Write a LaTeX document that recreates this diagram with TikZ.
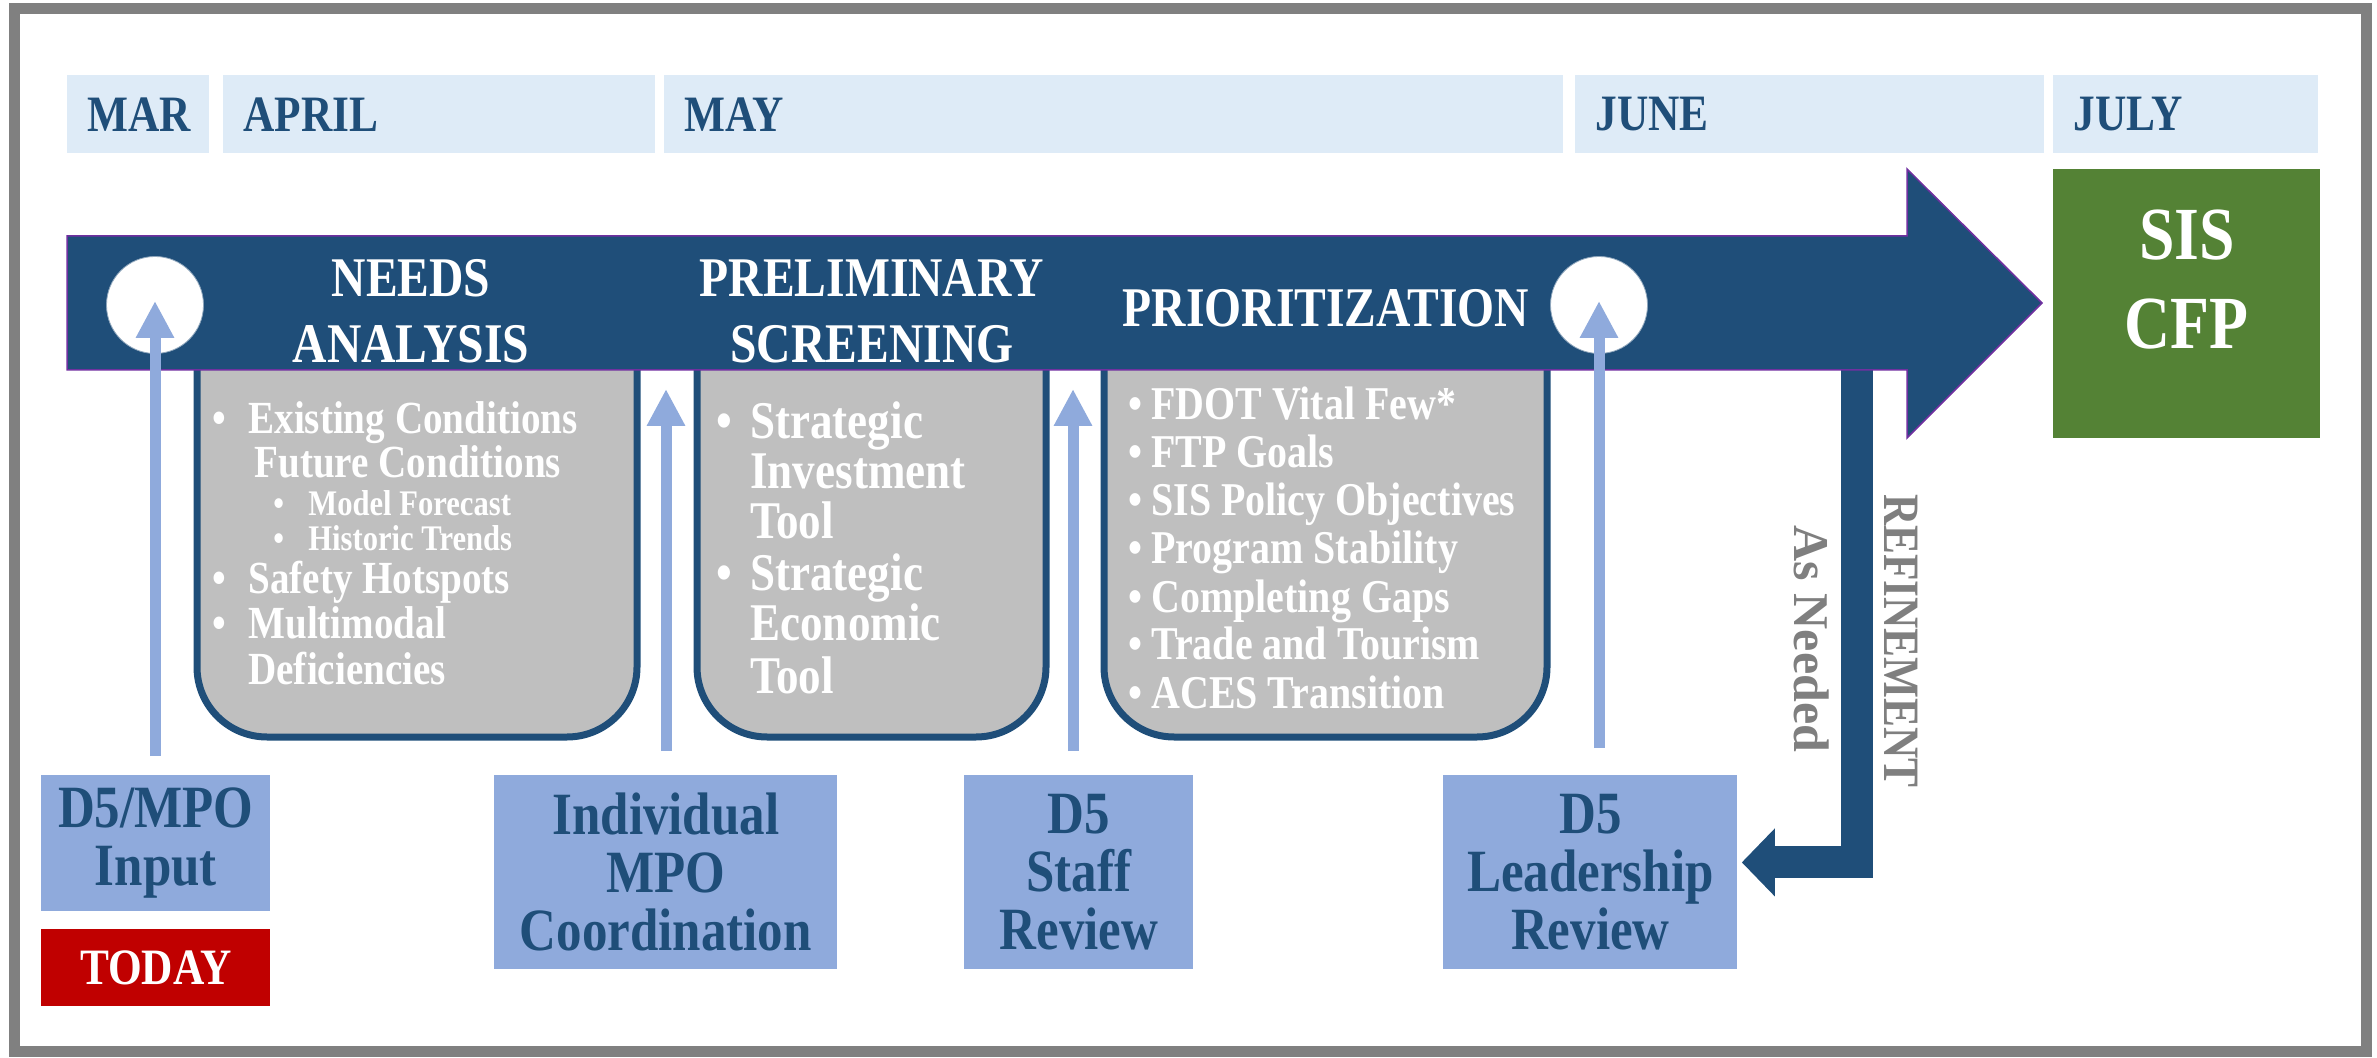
\documentclass[tikz,border=0pt]{standalone}
\usepackage{fontspec}
\setmainfont{Liberation Serif}[FakeStretch=0.85]
\newfontfamily\plainserif{Liberation Serif}
\usetikzlibrary{positioning,arrows.meta,shapes}

\definecolor{darkblue}{HTML}{1F4E79}
\definecolor{monthfill}{HTML}{DEEBF7}
\definecolor{softblue}{HTML}{8FAADC}
\definecolor{boxgray}{HTML}{BFBFBF}
\definecolor{cfpgreen}{HTML}{548235}
\definecolor{todayred}{HTML}{C00000}
\definecolor{notegray}{HTML}{7F7F7F}
\definecolor{edgepurple}{HTML}{7030A0}
\definecolor{framegray}{HTML}{808080}

\newcommand{\listdot}[1]{\makebox[#1][l]{\textbullet}}

\begin{document}
\begin{tikzpicture}
        [x=0.5pt, y=-0.5pt, font=\bfseries,
        monthbox/.style={fill=monthfill, text=darkblue, anchor=north west,
        minimum height=39pt, inner xsep=10pt, inner ysep=0pt, align=left,
        font=\bfseries\fontsize{25.5}{30}\selectfont},
        phasetitle/.style={text=white, align=center,
        font=\bfseries\fontsize{28}{33}\selectfont},
        hole/.style={circle, fill=white, draw=darkblue!50, thin,
        minimum size=48.5pt, inner sep=0pt},
        detailbox/.style={fill=boxgray, draw=darkblue, line width=3.5pt},
        listline/.style={text=white, anchor=base west, inner sep=0pt},
        lowbox/.style={fill=softblue, text=darkblue, align=center,
        anchor=north west, inner sep=0pt,
        font=\bfseries\fontsize{30}{29}\selectfont},
        uparrow/.style={draw=softblue, line width=5.5pt,
        -{Triangle[width=18pt,length=18.5pt]}},
        refine/.style={draw=darkblue, line width=16pt,
        -{Triangle[width=33pt,length=16.5pt]}},
        sidenote/.style={text=notegray, rotate=-90, inner sep=0pt}]
        \useasboundingbox (0,0) rectangle (2377,1058);
        \draw[framegray, line width=5.5pt] (14,9) rectangle (2366,1051);

        % months
        \node[monthbox, text width=51pt] (mar) at (67,75) {MAR};
        \node[monthbox, text width=196pt] (apr) at (223,75) {APRIL};
        \node[monthbox, text width=429.5pt] (may) at (664,75) {MAY};
        \node[monthbox, text width=214.5pt] (jun) at (1575,75) {JUNE};
        \node[monthbox, text width=112.5pt] (jul) at (2053,75) {JULY};

        % reviews
        \node[lowbox, minimum width=114.5pt, minimum height=68pt] (input) at (41,775) {D5/MPO\\Input};
        \node[lowbox, fill=todayred, text=white, minimum width=114.5pt, minimum height=38.5pt,
        font=\bfseries\fontsize{25.5}{30}\selectfont, below=8.5pt of input] (today) {TODAY};
        \node[lowbox, minimum width=171.5pt, minimum height=97pt] (mpo) at (494,775) {Individual\\MPO\\Coordination};
        \node[lowbox, minimum width=114.5pt, minimum height=97pt] (staff) at (964,775) {D5\\Staff\\Review};
        \node[lowbox, minimum width=147pt, minimum height=97pt] (lead) at (1443,775) {D5\\Leadership\\Review};

        % detail panels
        \path[detailbox] (197,330) [rounded corners=35pt] -- (197,737) -- (637,737) -- (637,330);
        \path[detailbox] (697,330) [rounded corners=35pt] -- (697,737) -- (1046,737) -- (1046,330);
        \path[detailbox] (1104,330) [rounded corners=35pt] -- (1104,737) -- (1547,737) -- (1547,330);

        % refinement loop
        \coordinate (refstart) at (1857,350);
        \draw[refine] (refstart) |- ([xshift=2pt, yshift=5pt]lead.east);
        \node[sidenote, font=\bfseries\fontsize{25.5}{30}\selectfont] (refnote) at (1901,641) {REFINEMENT};
        \node[sidenote, font=\plainserif\bfseries\fontsize{25}{30}\selectfont] (asneeded) at (1812,639) {As Needed};

        % process arrow
        \draw[fill=darkblue, draw=edgepurple, line width=0.75pt] (67,236) -- (1907,236) -- (1907,169)
            -- (2042,303) -- (1907,438) -- (1907,370) -- (67,370) -- cycle;
        \node[hole] (hole1) at (155,305) {};
        \node[hole] (hole2) at (1599,305) {};
        \node[phasetitle] (needs) at (411,311) {NEEDS\\ANALYSIS};
        \node[phasetitle] (screen) at (872,311) {PRELIMINARY\\SCREENING};
        \node[phasetitle] (prio) at (1326,308) {PRIORITIZATION};

        % result
        \node[fill=cfpgreen, minimum width=133.5pt, minimum height=134.5pt, anchor=north west,
        inner sep=0pt] (cfp) at (2053,169) {};
        \node[text=white, align=center, font=\bfseries\fontsize{37.5}{44.5}\selectfont] (cfptext)
            at ([yshift=12pt]cfp.center) {SIS\\CFP};

        % inputs
        \coordinate (tip2) at (666,389);
        \coordinate (tip3) at (1073,389);
        \draw[uparrow, shorten <=9.5pt] (hole1 |- input.north) -- ([yshift=2pt]hole1.center);
        \draw[uparrow, shorten <=12pt] (tip2 |- mpo.north) -- (tip2);
        \draw[uparrow, shorten <=12pt] (tip3 |- staff.north) -- (tip3);
        \draw[uparrow, shorten <=13.5pt] (hole2 |- lead.north) -- ([yshift=2pt]hole2.center);

        % panel texts
        \foreach \x/\y/\txt [count=\i] in {212/434/{\listdot{18pt}Existing Conditions},
            254/478/{Future Conditions}, 212/594/{\listdot{18pt}Safety Hotspots},
            212/639/{\listdot{18pt}Multimodal}, 248/684/{Deficiencies}}
            \node[listline, font=\bfseries\fontsize{23}{28}\selectfont] (need\i) at (\x,\y) {\txt};
        \foreach \y/\txt [count=\i] in {516/Model Forecast, 551/Historic Trends}
            \node[listline, font=\bfseries\fontsize{18}{22}\selectfont] (needsub\i) at (273,\y) {\listdot{17.5pt}\txt};
        \foreach \x/\y/\txt [count=\i] in {716/439/{\listdot{17pt}Strategic}, 750/489/Investment,
            750/539/Tool, 716/590/{\listdot{17pt}Strategic}, 750/640/Economic, 750/693/Tool}
            \node[listline, font=\bfseries\fontsize{26.5}{32}\selectfont] (scr\i) at (\x,\y) {\txt};
        \foreach \txt [count=\i] in {FDOT Vital Few*, FTP Goals, SIS Policy Objectives,
            Program Stability, Completing Gaps, Trade and Tourism, ACES Transition}
            \node[listline, font=\bfseries\fontsize{23.5}{28}\selectfont] (pri\i) at (1128,{372+48*\i}) {\listdot{11.5pt}\txt};
\end{tikzpicture}
\end{document}
